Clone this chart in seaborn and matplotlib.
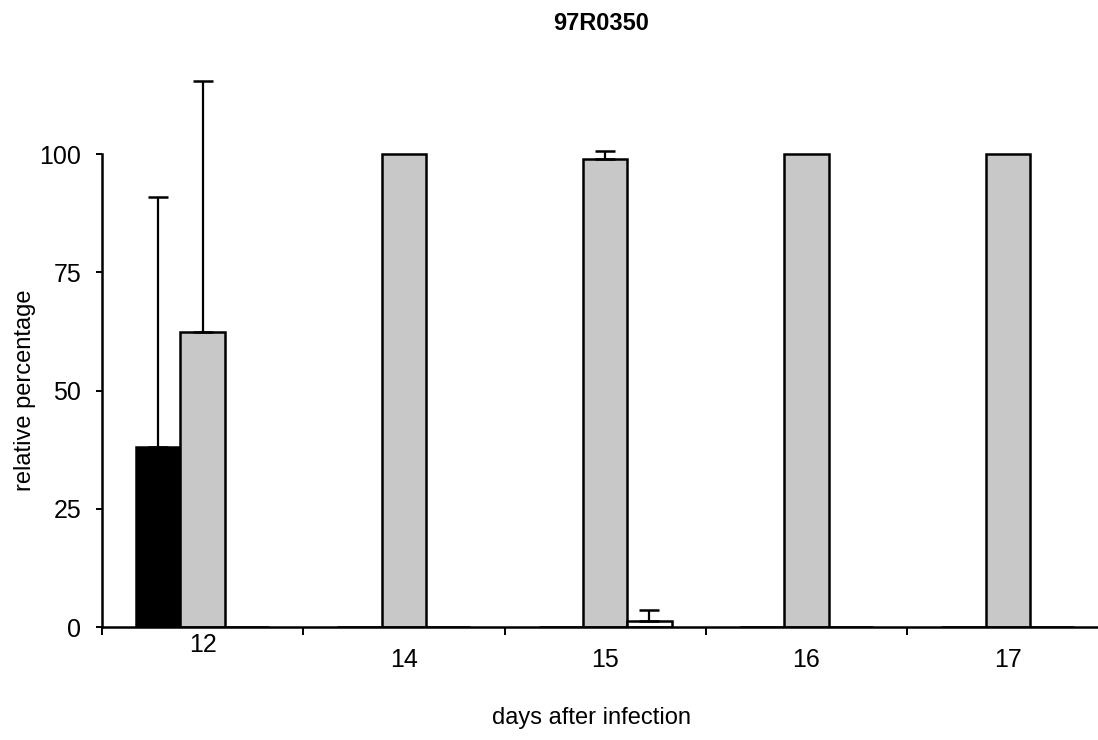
import pandas as pd
import matplotlib.pyplot as plt
import seaborn as sns
import numpy as np

# values
days = ['12', '14', '15', '16', '17']
series = ['a', 'b', 'c']
black_vals = [38.0, 0, 0, 0, 0]
gray_vals = [62.4, 100, 98.9, 100, 100]
white_vals = [0, 0, 1.3, 0, 0]
black_err = [52.9, 0, 0, 0, 0]
gray_err = [53.0, 0, 1.7, 0, 0]
white_err = [0, 0, 2.3, 0, 0]


def make_chart():
    rows = []
    for name, vals, errs in [('a', black_vals, black_err),
                             ('b', gray_vals, gray_err),
                             ('c', white_vals, white_err)]:
        for d, v, e in zip(days, vals, errs):
            rows.append({'day': d, 'series': name, 'value': v, 'err': e})
    df = pd.DataFrame(rows)

    sns.set_style('white')
    plt.rcParams['font.family'] = ['Liberation Sans', 'DejaVu Sans']
    plt.rcParams['text.color'] = 'black'
    plt.rcParams['axes.labelcolor'] = 'black'
    plt.rcParams['xtick.color'] = 'black'
    plt.rcParams['ytick.color'] = 'black'

    fig = plt.figure(figsize=(10.98, 7.40), dpi=100)
    ax = fig.add_axes([0.0929, 0.1527, 0.9165, 0.767])

    palette = {'a': '#000000', 'b': '#C8C8C8', 'c': '#FFFFFF'}
    sns.barplot(data=df, x='day', y='value', hue='series', hue_order=series,
                order=days, palette=palette, width=0.66, errorbar=None,
                edgecolor='black', linewidth=1.8, legend=False, ax=ax,
                saturation=1)

    # upward-only error bars placed on the drawn bars
    for patch, (_, r) in zip(ax.patches, df.iterrows()):
        if r['err'] > 0:
            xc = patch.get_x() + patch.get_width() / 2
            ax.errorbar(xc, r['value'], yerr=[[0], [r['err']]], fmt='none',
                        ecolor='black', elinewidth=1.6, capsize=7, capthick=1.8)

    ax.set_ylim(0, 120)
    ax.set_xlim(-0.5, 4.5)

    for s in ['top', 'right']:
        ax.spines[s].set_visible(False)
    ax.spines['left'].set_bounds(0, 100)
    ax.spines['left'].set_linewidth(1.8)
    ax.spines['bottom'].set_linewidth(1.8)
    ax.spines['left'].set_color('black')
    ax.spines['bottom'].set_color('black')

    ax.set_yticks([0, 25, 50, 75, 100])
    ax.set_yticklabels(['0', '25', '50', '75', '100'], fontsize=18)
    ax.tick_params(axis='y', left=True, length=4, width=1.4, pad=11)

    ax.set_xticks(np.arange(-0.5, 5, 1.0))
    ax.set_xticklabels([''] * 6)
    ax.tick_params(axis='x', which='major', bottom=True, length=6, width=1.4,
                   direction='out')
    ax.set_xticks(np.arange(len(days)), minor=True)
    ax.set_xticklabels(days, minor=True, fontsize=18)
    ax.tick_params(axis='x', which='minor', bottom=True, length=0, pad=15)
    ax.xaxis.get_minor_ticks()[0].set_pad(4)

    ax.set_xlabel('')
    ax.set_ylabel('relative percentage', fontsize=17)
    ax.yaxis.set_label_coords(-0.066, 50 / 120)

    fig.text(591 / 1098, 1 - 718 / 740, 'days after infection', ha='center',
             va='center', fontsize=17)
    fig.text(601 / 1098, 1 - 23 / 740, '97R0350', ha='center', va='center',
             fontsize=17, fontweight='bold')

    fig.savefig('out.png', dpi=100, facecolor='white')
    plt.close(fig)


if __name__ == "__main__":
    make_chart()
